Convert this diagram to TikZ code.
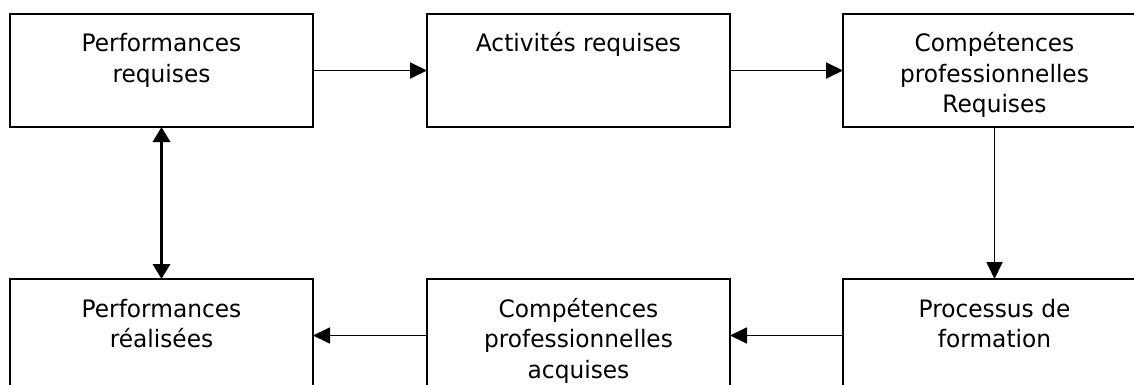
\documentclass[tikz,border=0pt]{standalone}
\usepackage{fontspec}
\setmainfont{DejaVu Sans}[FakeStretch=0.97]
\usetikzlibrary{arrows.meta}
\newcommand{\btext}[1]{\parbox[c][113pt][t]{303pt}{\centering\fontsize{24}{30.5}\selectfont\rule{0pt}{38pt}#1}}
\tikzset{
  stepbox/.style={draw=black, line width=1.6pt, inner sep=0pt, outer sep=0pt, fill=white},
  conn/.style={line width=1.8pt, -{Triangle[length=17pt, width=16pt]}},
  dconn/.style={line width=3.4pt, {Triangle[length=15pt, width=17pt]}-{Triangle[length=15pt, width=17pt]}}
}
\begin{document}
\begin{tikzpicture}[x=1pt, y=-1pt]
\fill[white] (0,0) rectangle (1134,385);
\useasboundingbox (0,0) rectangle (1134,385);
\node[stepbox] (pr) at (161.5,70.5) {\btext{Performances\\requises}};
\node[stepbox] (ar) at (578.5,70.5) {\btext{Activités requises}};
\node[stepbox] (cr) at (994.5,70.5) {\btext{Compétences\\professionnelles\\Requises}};
\node[stepbox] (pf) at (994.5,335.5) {\btext{Processus de\\formation}};
\node[stepbox] (ca) at (578.5,335.5) {\btext{Compétences\\professionnelles\\acquises}};
\node[stepbox] (pe) at (161.5,335.5) {\btext{Performances\\réalisées}};
\draw[conn] (pr.east) -- (ar.west);
\draw[conn] (ar.east) -- (cr.west);
\draw[conn] (cr.south) -- (pf.north);
\draw[conn] (pf.west) -- (ca.east);
\draw[conn] (ca.west) -- (pe.east);
\draw[dconn] (pr.south) -- (pe.north);
\end{tikzpicture}
\end{document}
